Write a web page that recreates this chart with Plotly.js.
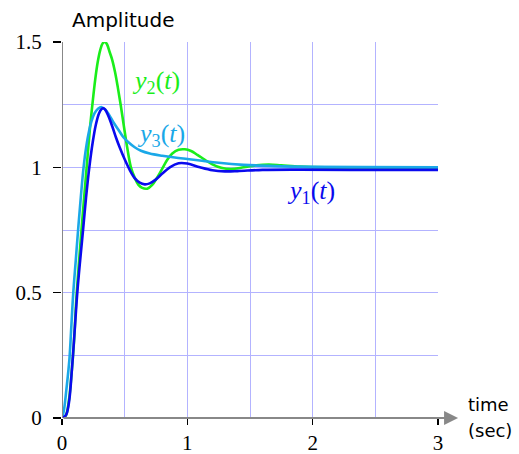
<!DOCTYPE html>
<html>
<head>
<meta charset="utf-8">
<script src="https://cdn.plot.ly/plotly-3.0.1.min.js"></script>
<style>html,body{margin:0;padding:0;background:#fff;}#chart{width:519px;height:454px;}</style>
</head>
<body>
<div id="chart"></div>
<script>
// y1(t) - blue
var t1 = [0, 0.03, 0.055, 0.08, 0.1, 0.122, 0.145, 0.168, 0.192, 0.218, 0.245, 0.27, 0.295, 0.315, 0.33, 0.345, 0.37, 0.40, 0.43, 0.46, 0.50, 0.54, 0.58, 0.62, 0.66, 0.70, 0.75, 0.80, 0.86, 0.93, 1.0, 1.1, 1.2, 1.3, 1.4, 1.6, 1.9, 2.3, 3.0];
var y1 = [0, 0.01, 0.06, 0.2, 0.34, 0.5, 0.63, 0.75, 0.88, 1.0, 1.1, 1.17, 1.215, 1.232, 1.236, 1.23, 1.205, 1.165, 1.12, 1.08, 1.032, 0.99, 0.957, 0.939, 0.932, 0.936, 0.952, 0.975, 1.0, 1.016, 1.015, 1.0, 0.988, 0.984, 0.985, 0.99, 0.991, 0.99, 0.99];
// y2(t) - green
var t2 = [0, 0.03, 0.055, 0.075, 0.095, 0.115, 0.137, 0.157, 0.18, 0.2, 0.222, 0.245, 0.265, 0.285, 0.305, 0.325, 0.343, 0.36, 0.38, 0.40, 0.423, 0.445, 0.468, 0.495, 0.52, 0.55, 0.583, 0.61, 0.64, 0.68, 0.72, 0.76, 0.8, 0.84, 0.88, 0.93, 0.98, 1.03, 1.08, 1.14, 1.2, 1.27, 1.35, 1.45, 1.55, 1.65, 1.75, 1.9, 2.1, 2.5, 3.0];
var y2 = [0, 0.01, 0.07, 0.17, 0.3, 0.48, 0.63, 0.76, 0.9, 1.02, 1.15, 1.262, 1.35, 1.42, 1.468, 1.495, 1.5, 1.49, 1.46, 1.43, 1.38, 1.32, 1.25, 1.16, 1.08, 1.0, 0.955, 0.93, 0.918, 0.915, 0.93, 0.96, 0.995, 1.03, 1.055, 1.07, 1.072, 1.065, 1.05, 1.03, 1.012, 0.998, 0.993, 1.0, 1.008, 1.011, 1.008, 1.003, 1.0, 1.0, 1.0];
// y3(t) - light blue
var t3 = [0, 0.015, 0.03, 0.045, 0.06, 0.075, 0.09, 0.11, 0.13, 0.15, 0.168, 0.187, 0.21, 0.235, 0.26, 0.287, 0.317, 0.345, 0.375, 0.41, 0.45, 0.49, 0.53, 0.58, 0.63, 0.7, 0.8, 0.9, 1.0, 1.1, 1.25, 1.45, 1.7, 2.0, 2.4, 3.0];
var y3 = [0, 0.03, 0.09, 0.16, 0.24, 0.37, 0.5, 0.63, 0.76, 0.88, 0.98, 1.06, 1.13, 1.183, 1.216, 1.234, 1.24, 1.23, 1.21, 1.18, 1.15, 1.12, 1.1, 1.08, 1.066, 1.055, 1.046, 1.039, 1.033, 1.027, 1.018, 1.01, 1.005, 1.002, 1.001, 1.0];

var xTicks = [0, 1, 2, 3];
var yTicks = [0, 0.5, 1, 1.5];
var yTickText = ['0', '0.5', '1', '1.5'];

var cBlue = '#0a0aee', cGreen = '#1aee1a', cLight = '#1aa8e8';
var gridColor = '#b3b3ff';

var lineStyle = function (c) { return {color: c, width: 2.6, shape: 'spline', smoothing: 1}; };
var traces = [
  {x: t2, y: y2, mode: 'lines', line: lineStyle(cGreen), hoverinfo: 'skip'},
  {x: t3, y: y3, mode: 'lines', line: lineStyle(cLight), hoverinfo: 'skip'},
  {x: t1, y: y1, mode: 'lines', line: lineStyle(cBlue), hoverinfo: 'skip'}
];

var serif = 'Liberation Serif, DejaVu Serif, serif';
var sans = 'DejaVu Sans, Liberation Sans, sans-serif';

var layout = {
  width: 519, height: 454,
  margin: {l: 62, r: 81, t: 42, b: 36},
  showlegend: false,
  paper_bgcolor: '#fff', plot_bgcolor: '#fff',
  xaxis: {
    range: [0, 3], tickvals: xTicks, ticktext: xTicks.map(String),
    showgrid: true, gridcolor: gridColor, gridwidth: 1,
    minor: {dtick: 0.5, showgrid: true, gridcolor: gridColor, gridwidth: 1, ticks: ''},
    ticks: 'outside', ticklen: 6, tickcolor: '#000', tickwidth: 1.2,
    ticklabelstandoff: 0,
    zeroline: false, showline: false,
    tickfont: {family: serif, size: 21, color: '#000'}, fixedrange: true
  },
  yaxis: {
    range: [0, 1.5], tickvals: yTicks, ticktext: yTickText,
    showgrid: true, gridcolor: gridColor, gridwidth: 1,
    minor: {dtick: 0.25, showgrid: true, gridcolor: gridColor, gridwidth: 1, ticks: ''},
    ticks: 'outside', ticklen: 8, tickcolor: '#000', tickwidth: 1.2,
    ticklabelstandoff: 7,
    zeroline: false, showline: false,
    tickfont: {family: serif, size: 21, color: '#000'}, fixedrange: true
  },
  shapes: [
    {type: 'line', xref: 'x', yref: 'y', x0: 0, x1: 0, y0: 0, y1: 1.5, line: {color: '#888', width: 2}}
  ],
  annotations: [
    {xref: 'x', yref: 'y', axref: 'x', ayref: 'y', x: 3.16, y: 0, ax: 0, ay: 0, text: '', showarrow: true,
     arrowcolor: '#888', arrowwidth: 2, arrowhead: 2, arrowsize: 1.4},
    {xref: 'paper', yref: 'paper', x: 0.022, y: 1.058, xanchor: 'left', yanchor: 'middle', showarrow: false,
     text: 'Amplitude', font: {family: sans, size: 20, color: '#000'}},
    {xref: 'paper', yref: 'paper', x: 1.075, y: 0.036, xanchor: 'left', yanchor: 'middle', showarrow: false,
     text: 'time', font: {family: sans, size: 18, color: '#000'}},
    {xref: 'paper', yref: 'paper', x: 1.075, y: -0.034, xanchor: 'left', yanchor: 'middle', showarrow: false,
     text: '(sec)', font: {family: sans, size: 18, color: '#000'}},
    {xref: 'x', yref: 'y', x: 0.75, y: 1.34, showarrow: false,
     text: '<i>y</i><sub>2</sub>(<i>t</i>)', font: {family: serif, size: 26, color: cGreen}},
    {xref: 'x', yref: 'y', x: 0.79, y: 1.129, showarrow: false,
     text: '<i>y</i><sub>3</sub>(<i>t</i>)', font: {family: serif, size: 26, color: cLight}},
    {xref: 'x', yref: 'y', x: 1.99, y: 0.90, showarrow: false,
     text: '<i>y</i><sub>1</sub>(<i>t</i>)', font: {family: serif, size: 26, color: cBlue}}
  ]
};

Plotly.newPlot('chart', traces, layout, {displayModeBar: false, staticPlot: true});
</script>
</body>
</html>
